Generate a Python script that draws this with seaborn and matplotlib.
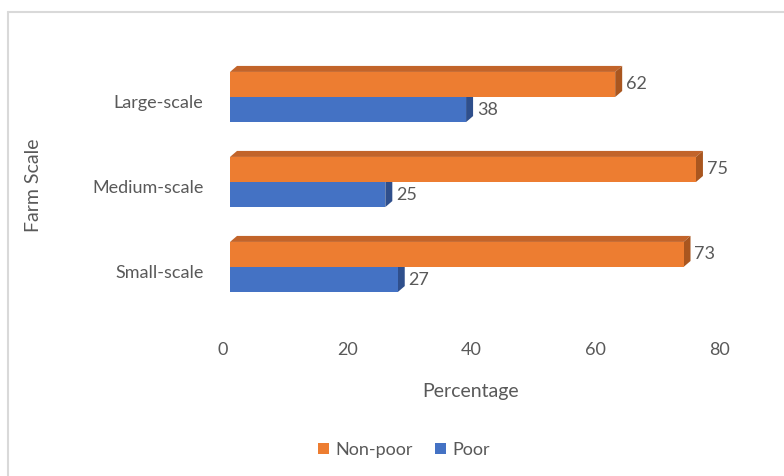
import matplotlib
matplotlib.use("Agg")
import matplotlib.pyplot as plt
from matplotlib.patches import Polygon
from matplotlib.lines import Line2D
from matplotlib.transforms import ScaledTranslation
import pandas as pd
import seaborn as sns

# === Data ===
farm_scales = ["Large-scale", "Medium-scale", "Small-scale"]
groups = ["Non-poor", "Poor"]
non_poor = [62, 75, 73]
poor = [38, 25, 27]
x_ticks = [0, 20, 40, 60, 80]

df = pd.DataFrame({
    "Farm Scale": farm_scales * 2,
    "Percentage": non_poor + poor,
    "Group": [groups[0]] * len(non_poor) + [groups[1]] * len(poor),
})

# === Style ===
front_colors = {"Non-poor": "#ED7D31", "Poor": "#4472C4"}
top_colors = {"Non-poor": "#C2642A", "Poor": "#3A5FA8"}
side_colors = {"Non-poor": "#A9561F", "Poor": "#2F4F8C"}
text_color = "#595959"
fs = 13

sns.set_theme(style="white")
plt.rcParams["font.family"] = ["Lato", "DejaVu Sans"]

fig = plt.figure(figsize=(7.84, 4.76), dpi=100)
ax = fig.add_axes([230 / 784, 158 / 476, 497 / 784, 272 / 476])

sns.barplot(
    data=df, x="Percentage", y="Farm Scale", hue="Group",
    order=farm_scales, hue_order=groups, palette=front_colors,
    saturation=1, width=0.59, orient="h", linewidth=0, ax=ax, zorder=3,
)

ax.set_xlim(0, 80)
ax.set_ylim(2.6, -0.6)

# === Fake 3D depth (Excel style) ===
dx = 7 * 80 / 497      # 7 px to the right
dy = 6 / 85            # 6 px up
for group, cont in zip(groups, ax.containers):
    for bar in cont:
        w = bar.get_width()
        y0 = bar.get_y()
        h = bar.get_height()
        top = Polygon([(0, y0), (w, y0), (w + dx, y0 - dy), (dx, y0 - dy)],
                      closed=True, facecolor=top_colors[group], lw=0, zorder=2)
        side = Polygon([(w, y0), (w + dx, y0 - dy), (w + dx, y0 + h - dy), (w, y0 + h)],
                       closed=True, facecolor=side_colors[group], lw=0, zorder=2)
        ax.add_patch(top)
        ax.add_patch(side)
        ax.text(w + dx + 0.6, y0 + h / 2, f"{w:.0f}", va="center", ha="left",
                fontsize=fs, color=text_color)

# === Axes cosmetics ===
for s in ax.spines.values():
    s.set_visible(False)
ax.grid(False)
ax.set_xticks(x_ticks)
ax.tick_params(axis="x", length=0, pad=17, labelsize=fs, labelcolor=text_color)
ax.tick_params(axis="y", length=0, pad=19, labelsize=fs, labelcolor=text_color)
for lab in ax.get_xticklabels():
    lab.set_transform(lab.get_transform() + ScaledTranslation(-7 / 100, 0, fig.dpi_scale_trans))
for lab in ax.get_yticklabels():
    lab.set_transform(lab.get_transform() + ScaledTranslation(0, -4 / 100, fig.dpi_scale_trans))

ax.set_xlabel("Percentage", fontsize=14, color=text_color, va="center")
ax.xaxis.set_label_coords(0.485, -0.272)
ax.set_ylabel("Farm Scale", fontsize=14, color=text_color, va="center")
ax.yaxis.set_label_coords(-0.396, 0.489)

sns.move_legend(
    ax, "center", bbox_to_anchor=(404 / 784, 1 - 450 / 476),
    bbox_transform=fig.transFigure, ncol=2, frameon=False, title=None,
    handlelength=0.6, handleheight=0.6, handletextpad=0.35, columnspacing=1.2,
    fontsize=fs, labelcolor=text_color,
)

# === Chart border (only left/top visible in the crop) ===
fig.add_artist(Line2D([8 / 784, 8 / 784], [0, 1 - 12 / 476], transform=fig.transFigure,
                      color="#D9D9D9", lw=1.5))
fig.add_artist(Line2D([8 / 784, 1], [1 - 12 / 476, 1 - 12 / 476], transform=fig.transFigure,
                      color="#D9D9D9", lw=1.5))

fig.savefig("out.png", dpi=100)
